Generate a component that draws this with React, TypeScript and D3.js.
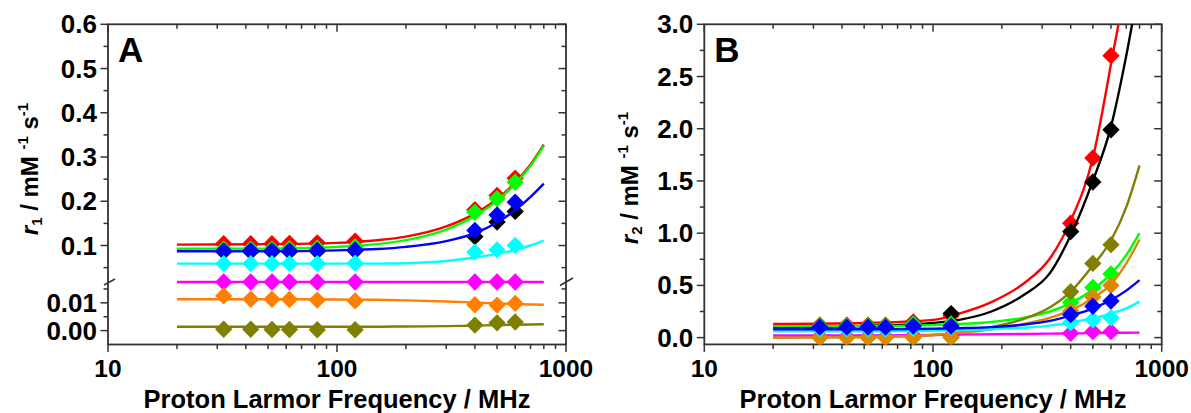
import * as d3 from 'd3';

// measured frequencies (MHz)
const freqs = [32, 42, 52, 62, 82, 120, 400, 500, 600];

// panel A: r1 (mM-1 s-1)
const r1Red = [0.104, 0.104, 0.104, 0.105, 0.106, 0.11, 0.181, 0.213, 0.252];
const r1Green = [0.092, 0.092, 0.092, 0.093, 0.094, 0.097, 0.175, 0.206, 0.243];
const r1Black = [0.086, 0.086, 0.086, 0.086, 0.087, 0.088, 0.12, 0.153, 0.177];
const r1Blue = [0.088, 0.088, 0.088, 0.088, 0.089, 0.09, 0.134, 0.169, 0.198];
const r1Cyan = [0.059, 0.059, 0.059, 0.059, 0.059, 0.06, 0.085, 0.09, 0.1];
const r1Magenta = [0.0175, 0.0175, 0.0175, 0.0175, 0.0175, 0.0175, 0.0175, 0.0175, 0.0175];
const r1Orange = [0.0125, 0.0113, 0.0113, 0.0112, 0.011, 0.0107, 0.0093, 0.0092, 0.0098];
const r1Olive = [0.0005, 0.0005, 0.0004, 0.0004, 0.0003, 0.0003, 0.002, 0.0028, 0.0031];

// panel A fitted curves
const fitFreqsA = [20, 50, 100, 150, 200, 300, 400, 500, 600, 700, 800];
const fitRedA = [0.102, 0.103, 0.106, 0.112, 0.12, 0.143, 0.172, 0.205, 0.242, 0.283, 0.328];
const fitGreenA = [0.0925, 0.093, 0.097, 0.103, 0.112, 0.136, 0.167, 0.201, 0.239, 0.28, 0.325];
const fitBlueA = [0.087, 0.087, 0.089, 0.092, 0.097, 0.11, 0.128, 0.152, 0.18, 0.21, 0.24];
const fitCyanA = [0.059, 0.059, 0.059, 0.059, 0.06, 0.065, 0.073, 0.081, 0.09, 0.1, 0.111];
const fitMagentaA = [0.0175, 0.0175, 0.0175, 0.0175, 0.0175, 0.0175, 0.0175, 0.0175, 0.0175, 0.0175, 0.0175];
const fitOrangeA = [0.0113, 0.0113, 0.0112, 0.0111, 0.0109, 0.0105, 0.0101, 0.0098, 0.0096, 0.0094, 0.0093];
const fitOliveA = [0.0014, 0.0014, 0.0014, 0.0014, 0.0015, 0.0016, 0.0018, 0.002, 0.0021, 0.0022, 0.0023];

// panel B: r2 (mM-1 s-1)
const r2Red = [0.12, 0.12, 0.12, 0.12, 0.15, 0.21, 1.095, 1.72, 2.7];
const r2Black = [0.1, 0.1, 0.1, 0.1, 0.13, 0.23, 1.015, 1.49, 1.99];
const r2Green = [0.11, 0.11, 0.11, 0.11, 0.13, 0.13, 0.335, 0.48, 0.61];
const r2Olive = [0, 0, 0, 0, 0, 0, 0.44, 0.71, 0.89];
const r2Magenta = [0.01, 0.01, 0.01, 0.01, 0.02, 0.02, 0.042, 0.057, 0.057];
const r2Orange = [0, 0, 0, 0, 0.005, 0.005, 0.255, 0.39, 0.5];
const r2Cyan = [0.085, 0.085, 0.085, 0.085, 0.09, 0.1, 0.144, 0.17, 0.19];
const r2Blue = [0.1, 0.1, 0.1, 0.1, 0.11, 0.11, 0.22, 0.3, 0.35];

// panel B fitted curves
const fitFreqsB = [20, 50, 100, 130, 180, 250, 325, 400, 500, 600, 700, 800];
const fitRedB = [0.13, 0.14, 0.17, 0.23, 0.34, 0.52, 0.76, 1.12, 1.72, 2.62, 3.5, 4.9];
const fitBlackB = [0.1, 0.11, 0.14, 0.17, 0.25, 0.41, 0.62, 0.98, 1.5, 2.02, 2.7, 3.4];
const fitGreenB = [0.11, 0.11, 0.12, 0.13, 0.15, 0.19, 0.25, 0.33, 0.46, 0.61, 0.79, 1.0];
const fitOliveB = [0, 0.005, 0.025, 0.05, 0.1, 0.18, 0.29, 0.44, 0.69, 0.93, 1.25, 1.65];
const fitOrangeB = [0, 0.005, 0.025, 0.045, 0.08, 0.13, 0.19, 0.26, 0.38, 0.51, 0.71, 0.94];
const fitCyanB = [0.06, 0.06, 0.065, 0.07, 0.08, 0.095, 0.115, 0.145, 0.185, 0.23, 0.28, 0.345];
const fitBlueB = [0.08, 0.08, 0.085, 0.09, 0.1, 0.125, 0.16, 0.21, 0.28, 0.36, 0.45, 0.55];
const fitMagentaB = [0.02, 0.02, 0.025, 0.03, 0.032, 0.035, 0.038, 0.04, 0.043, 0.045, 0.047, 0.048];

// axis ticks
const xMajor = [10, 100, 1000];
const xMinor = [20, 30, 40, 50, 60, 70, 80, 90, 200, 300, 400, 500, 600, 700, 800, 900];
const yMajorA = [0, 0.01, 0.1, 0.2, 0.3, 0.4, 0.5, 0.6];
const yLabelsA = ['0.00', '0.01', '0.1', '0.2', '0.3', '0.4', '0.5', '0.6'];
const yMinorA = [0.005, 0.015, 0.05, 0.15, 0.25, 0.35, 0.45, 0.55];
const yMajorB = [0, 0.5, 1, 1.5, 2, 2.5, 3];
const yLabelsB = ['0.0', '0.5', '1.0', '1.5', '2.0', '2.5', '3.0'];
const yMinorB = [0.25, 0.75, 1.25, 1.75, 2.25, 2.75];

const FONT = "'Liberation Sans', Arial, sans-serif";
const AXIS = '#333333';

const seriesA = [
  { color: '#ff0000', pts: r1Red, fit: fitRedA },
  { color: '#00ff00', pts: r1Green, fit: fitGreenA },
  { color: '#000000', pts: r1Black, fit: null },
  { color: '#0000ff', pts: r1Blue, fit: fitBlueA },
  { color: '#00ffff', pts: r1Cyan, fit: fitCyanA },
  { color: '#ff00ff', pts: r1Magenta, fit: fitMagentaA },
  { color: '#ff8000', pts: r1Orange, fit: fitOrangeA },
  { color: '#808000', pts: r1Olive, fit: fitOliveA },
];

const seriesB = [
  { color: '#ff0000', pts: r2Red, fit: fitRedB },
  { color: '#000000', pts: r2Black, fit: fitBlackB },
  { color: '#00ff00', pts: r2Green, fit: fitGreenB },
  { color: '#808000', pts: r2Olive, fit: fitOliveB },
  { color: '#ff00ff', pts: r2Magenta, fit: fitMagentaB },
  { color: '#dd8800', pts: r2Orange, fit: fitOrangeB },
  { color: '#00ffff', pts: r2Cyan, fit: fitCyanB },
  { color: '#0000ff', pts: r2Blue, fit: fitBlueB },
];

const diamond = d3.symbol(d3.symbolSquare, 150)();

type Series = { color: string; pts: number[]; fit: number[] | null };

function Panel({ id, left, right, top, bottom, y, yMajor, yLabels, yMinor, series, fitFreqs, letter, sub, titleX, titleY, broken }: {
  id: string; left: number; right: number; top: number; bottom: number;
  y: d3.ScaleLinear<number, number>; yMajor: number[]; yLabels: string[]; yMinor: number[];
  series: Series[]; fitFreqs: number[]; letter: string; sub: string; titleX: number; titleY: number; broken?: number;
}) {
  const x = d3.scaleLog().domain([10, 1000]).range([left, right]);
  const line = d3.line<[number, number]>()
    .x(d => x(d[0]))
    .y(d => y(d[1]))
    .curve(d3.curveMonotoneX);

  return (
    <g>
      <defs>
        <clipPath id={`clip-${id}`}>
          <rect x={left} y={top} width={right - left} height={bottom - top} />
        </clipPath>
      </defs>

      {/* frame */}
      <rect x={left} y={top} width={right - left} height={bottom - top} fill="none" stroke={AXIS} strokeWidth={1.8} />

      {/* x ticks: bottom outward, top inward */}
      {xMajor.map(v => (
        <g key={`xM${v}`}>
          <line x1={x(v)} x2={x(v)} y1={bottom} y2={bottom + 7.5} stroke={AXIS} strokeWidth={1.5} />
          <line x1={x(v)} x2={x(v)} y1={top} y2={top + 7.5} stroke={AXIS} strokeWidth={1.5} />
          <text x={x(v)} y={377} textAnchor="middle" fontFamily={FONT} fontWeight="bold" fontSize={24.5}>{v}</text>
        </g>
      ))}
      {xMinor.map(v => (
        <g key={`xm${v}`}>
          <line x1={x(v)} x2={x(v)} y1={bottom} y2={bottom + 4.5} stroke={AXIS} strokeWidth={1.5} />
          <line x1={x(v)} x2={x(v)} y1={top} y2={top + 4.5} stroke={AXIS} strokeWidth={1.5} />
        </g>
      ))}

      {/* y ticks: left outward, right inward */}
      {yMajor.map((v, i) => (
        <g key={`yM${v}`}>
          <line x1={left - 7.5} x2={left} y1={y(v)} y2={y(v)} stroke={AXIS} strokeWidth={1.5} />
          <line x1={right - 7.5} x2={right} y1={y(v)} y2={y(v)} stroke={AXIS} strokeWidth={1.5} />
          <text x={left - 11} y={y(v) + 9} textAnchor="end" fontFamily={FONT} fontWeight="bold" fontSize={26}>{yLabels[i]}</text>
        </g>
      ))}
      {yMinor.map(v => (
        <g key={`ym${v}`}>
          <line x1={left - 4.5} x2={left} y1={y(v)} y2={y(v)} stroke={AXIS} strokeWidth={1.5} />
          <line x1={right - 4.5} x2={right} y1={y(v)} y2={y(v)} stroke={AXIS} strokeWidth={1.5} />
        </g>
      ))}

      {broken !== undefined && (
        <g stroke={AXIS} strokeWidth={1.5}>
          <line x1={left - 4} x2={left + 7} y1={y(broken) + 3} y2={y(broken) - 3} />
          <line x1={right - 6} x2={right + 7} y1={y(broken) + 3.5} y2={y(broken) - 4} />
        </g>
      )}

      {/* data: fitted curve then points, per series */}
      <g clipPath={`url(#clip-${id})`}>
        {series.map((s, i) => (
          <g key={i}>
            {s.fit && (
              <path
                d={line(fitFreqs.map((f, j) => [f, s.fit![j]] as [number, number])) || ''}
                fill="none" stroke={s.color} strokeWidth={2.4}
              />
            )}
            {s.pts.map((v, j) => (
              <path key={j} d={diamond || ''} fill={s.color}
                transform={`translate(${x(freqs[j])},${y(v)}) rotate(45)`} />
            ))}
          </g>
        ))}
      </g>

      {/* panel letter */}
      <text x={left + 10} y={62} fontFamily={FONT} fontWeight="bold" fontSize={35}>{letter}</text>

      {/* axis titles */}
      <text x={(left + right) / 2} y={408} textAnchor="middle" fontFamily={FONT} fontWeight="bold" fontSize={25.5}>
        Proton Larmor Frequency / MHz
      </text>
      <text transform={`translate(${titleX},${titleY}) rotate(-90)`} textAnchor="middle" fontFamily={FONT} fontWeight="bold" fontSize={24}>
        <tspan fontStyle="italic">r</tspan>
        <tspan fontSize={15} dy={4}>{sub}</tspan>
        <tspan dy={-4}> / mM </tspan>
        <tspan fontSize={15} dy={-10}>-1</tspan>
        <tspan dy={10}> s</tspan>
        <tspan fontSize={15} dy={-10}>-1</tspan>
      </text>
    </g>
  );
}

export default function App() {
  // panel A has a broken y axis: lower segment -0.005..0.0175, upper 0.0175..0.6
  const yA = d3.scaleLinear().domain([-0.005, 0.0175, 0.6]).range([344.5, 282, 24.3]);
  const yB = d3.scaleLinear().domain([-0.065, 3.0]).range([344.4, 24.3]);

  return (
    <svg width={1191} height={413} style={{ position: 'absolute', left: 0, top: 0, background: '#fff' }}>
      <Panel id="a" left={108} right={566} top={24.3} bottom={344.5} y={yA}
        yMajor={yMajorA} yLabels={yLabelsA} yMinor={yMinorA}
        series={seriesA} fitFreqs={fitFreqsA} letter="A" sub="1"
        titleX={37.5} titleY={169} broken={0.0175} />
      <Panel id="b" left={704.3} right={1161.7} top={24.3} bottom={344.4} y={yB}
        yMajor={yMajorB} yLabels={yLabelsB} yMinor={yMinorB}
        series={seriesB} fitFreqs={fitFreqsB} letter="B" sub="2"
        titleX={638} titleY={178} />
    </svg>
  );
}
